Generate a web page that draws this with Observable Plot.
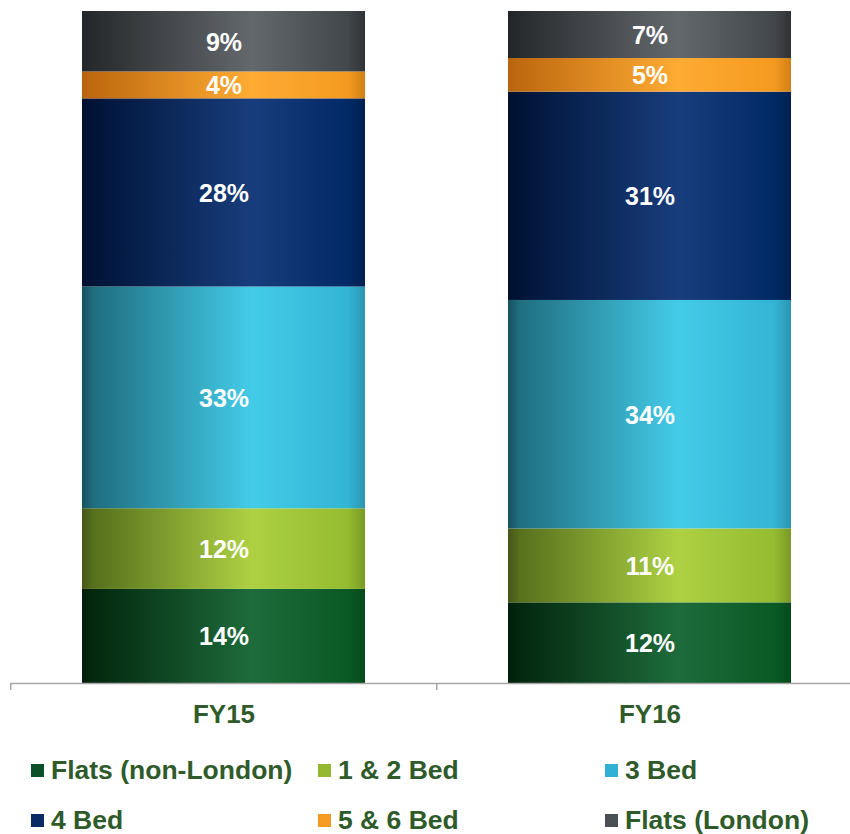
<!DOCTYPE html>
<html><head><meta charset="utf-8">
<script src="https://cdn.jsdelivr.net/npm/d3@7"></script>
<script src="https://cdn.jsdelivr.net/npm/@observablehq/plot@0.6"></script>
<style>
body{margin:0;background:#fff;font-family:"Liberation Sans",Arial,sans-serif;}
#wrap{position:relative;width:850px;height:834px;overflow:hidden;}
#chart{position:absolute;left:0;top:0;}
.sw{position:absolute;width:13px;height:13px;}
.lt{position:absolute;font-size:26.5px;line-height:26px;font-weight:bold;color:#2f5b2b;white-space:nowrap;}
</style></head><body>
<svg width="0" height="0" style="position:absolute"><defs id="grads"></defs></svg>
<div id="wrap"><div id="chart"></div><div id="legend"></div></div>
<script>
const years = ["FY15", "FY16"];
const series = ["Flats (non-London)", "1 & 2 Bed", "3 Bed", "4 Bed", "5 & 6 Bed", "Flats (London)"];
const fy15 = [14, 12, 33, 28, 4, 9];
const fy16 = [12, 11, 34, 31, 5, 7];
const swatchColors = ["#0b5028", "#94b830", "#2fb0d4", "#0a2a66", "#f59a23", "#4a4f55"];
// gradient colours: [edge, dark, peak, right, edge]
const gradColors = [
  ["#011f0c", "#03280f", "#1e6b3b", "#0a5a25", "#064a1c"],
  ["#465618", "#56701c", "#aed143", "#95bb30", "#7a9a25"],
  ["#17505e", "#1f6e80", "#44cbe8", "#33b5d5", "#2a95b0"],
  ["#000f2e", "#001438", "#183d7c", "#022a66", "#012050"],
  ["#b86510", "#c06a10", "#fdab33", "#f59a20", "#d08015"],
  ["#222528", "#282b2e", "#63686d", "#42474c", "#303336"]
];
const stopOffsets = [0, 0.04, 0.6, 0.94, 1];

// gradient defs
const defs = d3.select("#grads");
gradColors.forEach((cols, j) => {
  const g = defs.append("linearGradient").attr("id", "g" + j)
    .attr("x1", 0).attr("x2", 1).attr("y1", 0).attr("y2", 0);
  cols.forEach((c, k) => g.append("stop").attr("offset", stopOffsets[k]).attr("stop-color", c));
});

const values = [fy15, fy16];
const data = years.flatMap((y, i) => series.map((s, j) => ({year: y, series: s, value: values[i][j], idx: j})));

const W = 850, H = 740;
const x0 = 10, x1 = 863;
const step = (x1 - x0) / years.length;

const chart = Plot.plot({
  width: W, height: H,
  marginTop: 11, marginBottom: 57, marginLeft: 10, marginRight: 0,
  style: {fontFamily: "Liberation Sans, Arial, sans-serif", background: "white", overflow: "visible"},
  x: {domain: years, range: [x0, x1], paddingInner: 0.336, paddingOuter: 0.168, label: null},
  y: {domain: [0, 100], axis: null},
  color: {type: "identity"},
  marks: [
    Plot.barY(data, Plot.stackY({x: "year", y: "value", z: "series", fill: d => `url(#g${d.idx})`})),
    Plot.text(data, Plot.stackY({x: "year", y: "value", z: "series", text: d => d.value + "%", fill: "white", fontSize: 25, fontWeight: "bold", dy: 1})),
    Plot.ruleY([0], {stroke: "#a6a6a6", strokeWidth: 1.5}),
    Plot.axisX({tickSize: 7, text: null, label: null, dx: -step / 2, stroke: "#a6a6a6", strokeWidth: 1.5}),
    Plot.axisX({tickSize: 0, tickPadding: 21, label: null, fontSize: 26, fontWeight: "bold", fill: "#2f5b2b"})
  ]
});
document.getElementById("chart").appendChild(chart);

// legend
const legend = document.getElementById("legend");
const colX = [31, 318, 605];
const rowY = [764, 814];
series.forEach((s, j) => {
  const c = j % 3, r = Math.floor(j / 3);
  const sw = document.createElement("div");
  sw.className = "sw";
  sw.style.left = colX[c] + "px";
  sw.style.top = rowY[r] + "px";
  sw.style.background = swatchColors[j];
  legend.appendChild(sw);
  const t = document.createElement("div");
  t.className = "lt";
  t.style.left = (colX[c] + 20) + "px";
  t.style.top = (rowY[r] - 7) + "px";
  t.textContent = s;
  legend.appendChild(t);
});
</script>
</body></html>
